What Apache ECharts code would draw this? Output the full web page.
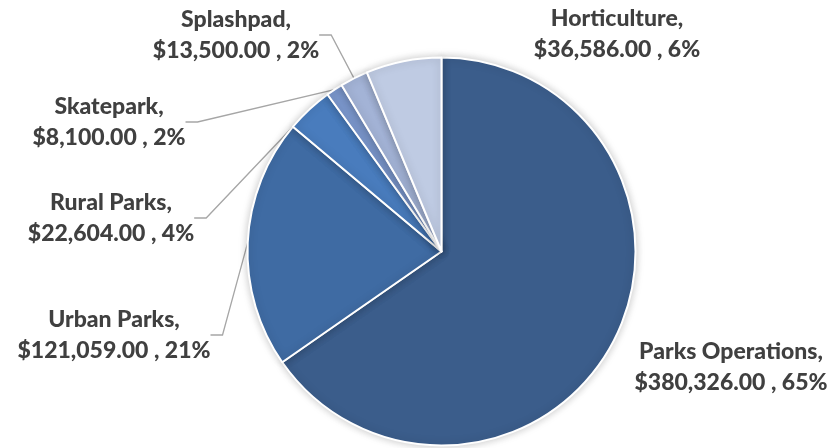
<!DOCTYPE html>
<html>
<head>
<meta charset="utf-8">
<script src="https://cdn.jsdelivr.net/npm/echarts@6/dist/echarts.min.js"></script>
<style>
  html, body { margin: 0; padding: 0; background: #fff; }
  #chart { width: 836px; height: 448px; }
</style>
</head>
<body>
<div id="chart"></div>
<script>
// Budget by program area
const categories = ['Parks Operations', 'Urban Parks', 'Rural Parks', 'Skatepark', 'Splashpad', 'Horticulture'];
const amounts = [380326, 121059, 22604, 8100, 13500, 36586];
const percentLabels = ['65%', '21%', '4%', '2%', '2%', '6%'];

const sliceColors = ['#3b5d8b', '#3f6ba3', '#497cbd', '#7a96cb', '#a3b3d6', '#bfcbe3'];
// Centre of each label block, and whether it gets a leader line
const labelSpots = [
  { x: 731, y: 367, line: false },
  { x: 114, y: 335, line: true },
  { x: 111, y: 218, line: true },
  { x: 109, y: 122, line: true },
  { x: 236, y: 35, line: true },
  { x: 617, y: 34, line: false }
];

const money = v => '$' + v.toLocaleString('en-US', { minimumFractionDigits: 2, maximumFractionDigits: 2 });

const chart = echarts.init(document.getElementById('chart'), null, { renderer: 'canvas' });
chart.setOption({
  animation: false,
  series: [{
    type: 'pie',
    center: [441.5, 251.5],
    radius: [0, 194],
    startAngle: 90,
    clockwise: true,
    avoidLabelOverlap: false,
    data: categories.map((name, i) => ({
      name,
      value: amounts[i],
      itemStyle: { color: sliceColors[i] },
      labelLine: { show: labelSpots[i].line }
    })),
    itemStyle: {
      borderColor: '#ffffff',
      borderWidth: 2,
      shadowBlur: 8,
      shadowColor: 'rgba(0,0,0,0.22)'
    },
    label: {
      show: true,
      position: 'outside',
      formatter: p => p.name + ',\n' + money(amounts[p.dataIndex]) + ' , ' + percentLabels[p.dataIndex],
      fontFamily: 'Lato',
      fontWeight: 900,
      fontSize: 23,
      lineHeight: 31,
      color: '#404040',
      align: 'center'
    },
    labelLine: {
      length: 10,
      length2: 12,
      lineStyle: { color: '#a6a6a6', width: 1.3 }
    },
    labelLayout: params => {
      const s = labelSpots[params.dataIndex];
      return { x: s.x, y: s.y, align: 'center', verticalAlign: 'middle' };
    }
  }]
});
</script>
</body>
</html>
